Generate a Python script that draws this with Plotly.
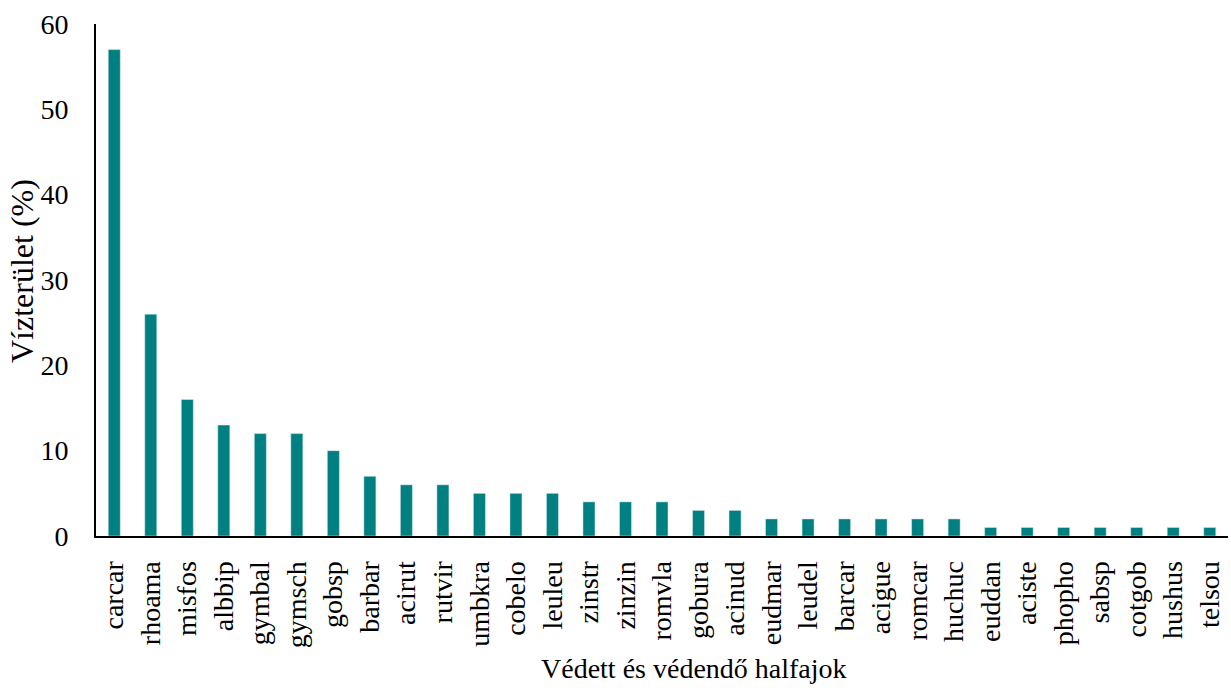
import plotly.graph_objects as go

species = ["carcar", "rhoama", "misfos", "albbip", "gymbal", "gymsch", "gobsp", "barbar",
           "acirut", "rutvir", "umbkra", "cobelo", "leuleu", "zinstr", "zinzin", "romvla",
           "gobura", "acinud", "eudmar", "leudel", "barcar", "acigue", "romcar", "huchuc",
           "euddan", "aciste", "phopho", "sabsp", "cotgob", "hushus", "telsou"]
values = [57, 26, 16, 13, 12, 12, 10, 7, 6, 6, 5, 5, 5, 4, 4, 4, 3, 3, 2, 2, 2, 2, 2, 2,
          1, 1, 1, 1, 1, 1, 1]
y_ticks = [0, 10, 20, 30, 40, 50, 60]

font_family = "Liberation Serif, Times New Roman, serif"
W, H = 1231, 688
L, R, T, B = 96, 3, 24, 152

fig = go.Figure(go.Bar(x=species, y=values, marker_color="#008080", width=0.33))

fig.update_layout(
    width=W, height=H,
    margin=dict(l=L, r=R, t=T, b=B),
    paper_bgcolor="white", plot_bgcolor="white",
    font=dict(family=font_family, size=28, color="black"),
    showlegend=False,
    bargap=0.67,
)
fig.update_xaxes(
    tickangle=-90, showline=True, linecolor="black", linewidth=2,
    ticks="", showgrid=False, ticklabelstandoff=12,
    range=[-0.5, len(species) - 0.5],
)
fig.update_yaxes(
    range=[0, 60], tickvals=y_ticks, showline=True, linecolor="black", linewidth=2,
    ticks="", showgrid=False, zeroline=False, ticklabelstandoff=20,
)

pw = W - L - R
ph = H - T - B
# x-axis title
fig.add_annotation(
    text="Védett és védendő halfajok", xref="paper", yref="paper",
    x=(694 - L) / pw, y=-(686 - (H - B)) / ph, showarrow=False,
    font=dict(size=28), xanchor="center", yanchor="bottom",
)
# y-axis title
fig.add_annotation(
    text="Vízterület (%)", xref="paper", yref="paper",
    x=-(L - 22) / pw, y=((H - B) - 271) / ph, showarrow=False, textangle=-90,
    font=dict(size=32), xanchor="center", yanchor="middle",
)

fig.write_html("out.html", config={"displayModeBar": False},
               post_script="document.body.style.margin='0px';")
